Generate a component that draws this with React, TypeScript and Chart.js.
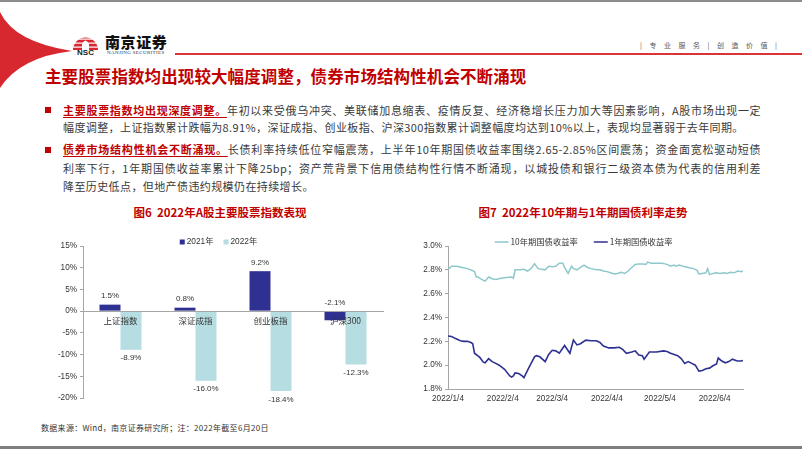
import React, { useEffect, useRef } from 'react';
import { Chart, registerables } from 'chart.js';

Chart.register(...registerables);

// ---------- Figure 6: bar chart data ----------
const barCategories = ['上证指数', '深证成指', '创业板指', '沪深300'];
const barSeriesNames = ['2021年', '2022年'];
const bar2021 = [1.5, 0.8, 9.2, -2.1];
const bar2022 = [-8.9, -16.0, -18.4, -12.3];
const barYMin = -20;
const barYMax = 15;
const barYStep = 5;

// ---------- Figure 7: line chart data ----------
const lineSeriesNames = ['10年期国债收益率', '1年期国债收益率'];
const lineStartDate = '2022/1/4';
const lineEndDate = '2022/6/20';
const lineXTickLabels = ['2022/1/4', '2022/2/4', '2022/3/4', '2022/4/4', '2022/5/4', '2022/6/4'];
const lineYMin = 1.8;
const lineYMax = 3.0;
const lineYStep = 0.2;

const tenYDates = [
  '1/4', '1/6', '1/9', '1/12', '1/15', '1/17', '1/19', '1/20', '1/21', '1/23', '1/25', '1/27', '1/29', '1/31',
  '2/3', '2/6', '2/9', '2/10', '2/11', '2/14', '2/16', '2/18', '2/20', '2/22', '2/24', '2/26', '2/28',
  '3/2', '3/4', '3/6', '3/8', '3/10', '3/11', '3/13', '3/15', '3/16', '3/18', '3/20', '3/22', '3/24', '3/26', '3/29', '3/31',
  '4/2', '4/4', '4/6', '4/8', '4/10', '4/12', '4/14', '4/16', '4/18', '4/20', '4/22', '4/24', '4/26', '4/27', '4/29',
  '5/2', '5/5', '5/7', '5/9', '5/10', '5/12', '5/13', '5/15', '5/17', '5/20', '5/23', '5/25', '5/26', '5/28', '5/30', '5/31',
  '6/1', '6/3', '6/5', '6/7', '6/9', '6/11', '6/13', '6/15', '6/17', '6/19', '6/20',
];
const tenYValues = [
  2.80, 2.83, 2.83, 2.82, 2.81, 2.80, 2.785, 2.74, 2.74, 2.72, 2.705, 2.74, 2.725, 2.72,
  2.73, 2.735, 2.74, 2.73, 2.80, 2.80, 2.805, 2.79, 2.81, 2.85, 2.81, 2.805, 2.80,
  2.83, 2.825, 2.83, 2.855, 2.855, 2.82, 2.77, 2.83, 2.81, 2.80, 2.82, 2.84, 2.82, 2.81, 2.80, 2.80,
  2.79, 2.785, 2.775, 2.765, 2.77, 2.78, 2.77, 2.79, 2.82, 2.845, 2.85, 2.85, 2.845, 2.865, 2.855,
  2.855, 2.855, 2.85, 2.84, 2.83, 2.84, 2.83, 2.84, 2.83, 2.82, 2.81, 2.795, 2.765, 2.77, 2.775, 2.81,
  2.76, 2.77, 2.775, 2.77, 2.775, 2.77, 2.78, 2.775, 2.79, 2.785, 2.79,
];

const oneYDates = [
  '1/4', '1/6', '1/8', '1/11', '1/13', '1/15', '1/17', '1/18', '1/19', '1/22', '1/24', '1/25', '1/27', '1/29', '1/31',
  '2/2', '2/5', '2/8', '2/9', '2/10', '2/11', '2/13', '2/15', '2/16', '2/19', '2/22', '2/23', '2/25', '2/28',
  '3/2', '3/4', '3/6', '3/8', '3/11', '3/14', '3/16', '3/18', '3/20', '3/23', '3/26', '3/29', '3/31',
  '4/2', '4/5', '4/8', '4/11', '4/13', '4/15', '4/18', '4/20', '4/22', '4/24', '4/25', '4/28',
  '5/2', '5/6', '5/8', '5/10', '5/12', '5/14', '5/16', '5/18', '5/20', '5/22', '5/24', '5/26', '5/28', '5/30',
  '6/1', '6/3', '6/5', '6/6', '6/8', '6/10', '6/12', '6/14', '6/16', '6/17', '6/19', '6/20',
];
const oneYValues = [
  2.245, 2.24, 2.225, 2.205, 2.20, 2.20, 2.19, 2.18, 2.10, 2.065, 2.025, 2.02, 2.055, 2.03, 2.015,
  2.00, 1.965, 1.91, 1.90, 1.91, 1.935, 1.93, 1.91, 1.895, 1.985, 2.07, 2.08, 2.07, 2.03,
  2.09, 2.125, 2.12, 2.10, 2.165, 2.10, 2.21, 2.17, 2.18, 2.21, 2.205, 2.205, 2.19,
  2.16, 2.145, 2.145, 2.15, 2.13, 2.10, 2.11, 2.12, 2.085, 2.08, 2.05, 2.11,
  2.11, 2.12, 2.115, 2.10, 2.09, 2.08, 2.055, 2.015, 2.03, 2.015, 2.00, 1.95, 1.955, 1.97,
  1.975, 1.995, 2.01, 2.06, 2.035, 2.02, 2.03, 2.05, 2.04, 2.035, 2.035, 2.04,
];

// ---------- helpers ----------
const dayOffset = (s: string) => {
  const full = s.split('/').length === 2 ? '2022/' + s : s;
  const [y, m, d] = full.split('/').map(Number);
  const [y0, m0, d0] = lineStartDate.split('/').map(Number);
  return Math.round((Date.UTC(y, m - 1, d) - Date.UTC(y0, m0 - 1, d0)) / 86400000);
};

const AXIS_FONT = "'Liberation Sans', Arial, 'Noto Sans CJK SC', sans-serif";
const CJK_FONT = "'Noto Sans CJK SC', 'Liberation Sans', sans-serif";
const AXIS_COLOR = '#A6A6A6';
const TEXT_COLOR = '#333333';
const RED = '#C00000';

const customLegend = {
  id: 'customLegend',
  afterDraw(chart: any, _args: any, opts: any) {
    const ctx = chart.ctx;
    ctx.save();
    ctx.font = opts.font;
    const items = chart.data.datasets.map((ds: any) => ({
      text: ds.label,
      color: opts.kind === 'line' ? ds.borderColor : ds.backgroundColor,
    }));
    const widths = items.map((it: any) => opts.markerWidth + opts.markerGap + ctx.measureText(it.text).width);
    const total = widths.reduce((a: number, b: number) => a + b, 0) + opts.itemGap * (items.length - 1);
    let x = opts.cx - total / 2;
    items.forEach((it: any, i: number) => {
      if (opts.kind === 'line') {
        ctx.strokeStyle = it.color;
        ctx.lineWidth = 1.5;
        ctx.beginPath();
        ctx.moveTo(x, opts.cy);
        ctx.lineTo(x + opts.markerWidth, opts.cy);
        ctx.stroke();
      } else {
        ctx.fillStyle = it.color;
        ctx.fillRect(x, opts.cy - opts.markerWidth / 2, opts.markerWidth, opts.markerWidth);
      }
      ctx.fillStyle = TEXT_COLOR;
      ctx.textAlign = 'left';
      ctx.textBaseline = 'middle';
      ctx.fillText(it.text, x + opts.markerWidth + opts.markerGap, opts.cy);
      x += widths[i] + opts.itemGap;
    });
    ctx.restore();
  },
};

const barValueLabels = {
  id: 'barValueLabels',
  afterDatasetsDraw(chart: any, _args: any, opts: any) {
    const ctx = chart.ctx;
    ctx.save();
    ctx.font = opts.font;
    ctx.fillStyle = TEXT_COLOR;
    ctx.textAlign = 'center';
    ctx.textBaseline = 'middle';
    chart.data.datasets.forEach((ds: any, di: number) => {
      const meta = chart.getDatasetMeta(di);
      meta.data.forEach((el: any, i: number) => {
        const v = ds.data[i];
        const p = el.getProps(['x', 'y', 'base'], true);
        const top = Math.min(p.y, p.base);
        const bottom = Math.max(p.y, p.base);
        const ly = di === 0 ? top - opts.offset : bottom + opts.offset;
        ctx.fillText(v.toFixed(1) + '%', p.x, ly);
      });
    });
    ctx.restore();
  },
};

function BarChart() {
  const ref = useRef<HTMLCanvasElement>(null);
  useEffect(() => {
    if (!ref.current) return;
    const chart = new Chart(ref.current, {
      type: 'bar',
      data: {
        labels: barCategories,
        datasets: [
          { label: barSeriesNames[0], data: bar2021, backgroundColor: '#2E3192', barPercentage: 1, categoryPercentage: 0.56 },
          { label: barSeriesNames[1], data: bar2022, backgroundColor: '#B5DDE2', barPercentage: 1, categoryPercentage: 0.56 },
        ],
      },
      plugins: [customLegend, barValueLabels],
      options: {
        responsive: false,
        animation: false,
        layout: { padding: { top: 10, right: 14, bottom: 8, left: 0 } },
        plugins: {
          legend: { display: false },
          tooltip: { enabled: false },
          customLegend: { kind: 'box', cx: 178.5, cy: 6, markerWidth: 5, markerGap: 2, itemGap: 10, font: `8.3px ${AXIS_FONT}` },
          barValueLabels: { font: `8px ${AXIS_FONT}`, offset: 8.5 },
        } as any,
        scales: {
          x: {
            position: { y: 0 } as any,
            grid: { display: true, drawOnChartArea: false, drawTicks: false, color: AXIS_COLOR },
            border: { display: true, color: AXIS_COLOR, width: 1, z: 1 } as any,
            ticks: { z: 2, font: { family: CJK_FONT, size: 8.5 }, color: TEXT_COLOR, padding: 5, maxRotation: 0, autoSkip: false },
          },
          y: {
            min: barYMin,
            max: barYMax,
            ticks: { stepSize: barYStep, callback: (v: any) => v + '%', font: { family: AXIS_FONT, size: 8.2 }, color: TEXT_COLOR, padding: 3 },
            grid: { drawOnChartArea: false, drawTicks: true, tickLength: 3, color: AXIS_COLOR },
            border: { display: true, color: AXIS_COLOR, width: 1 },
            afterFit: (s: any) => { s.width = 43; },
          },
        },
      },
    });
    return () => chart.destroy();
  }, []);
  return <canvas ref={ref} width={357} height={170} style={{ position: 'absolute', left: 40, top: 236, width: 357, height: 170 }} />;
}

function LineChart() {
  const ref = useRef<HTMLCanvasElement>(null);
  useEffect(() => {
    if (!ref.current) return;
    const chart = new Chart(ref.current, {
      type: 'line',
      data: {
        datasets: [
          {
            label: lineSeriesNames[0],
            data: tenYDates.map((d, i) => ({ x: dayOffset(d), y: tenYValues[i] })),
            borderColor: '#8DC8CB',
            borderWidth: 1.5,
            pointRadius: 0,
            tension: 0,
          },
          {
            label: lineSeriesNames[1],
            data: oneYDates.map((d, i) => ({ x: dayOffset(d), y: oneYValues[i] })),
            borderColor: '#2E3192',
            borderWidth: 1.6,
            pointRadius: 0,
            tension: 0,
          },
        ],
      },
      plugins: [customLegend],
      options: {
        responsive: false,
        animation: false,
        layout: { padding: { top: 10, right: 19, bottom: 0, left: 0 } },
        plugins: {
          legend: { display: false },
          tooltip: { enabled: false },
          customLegend: { kind: 'line', cx: 178.5, cy: 6, markerWidth: 14, markerGap: 2, itemGap: 16, font: `8.3px ${CJK_FONT}` },
        } as any,
        scales: {
          x: {
            type: 'linear',
            min: 0,
            max: dayOffset(lineEndDate),
            afterBuildTicks: (s: any) => { s.ticks = lineXTickLabels.map((d) => ({ value: dayOffset(d) })); },
            ticks: {
              callback: (v: any) => lineXTickLabels.find((d) => dayOffset(d) === v) || '',
              font: { family: AXIS_FONT, size: 8.2 },
              color: TEXT_COLOR,
              padding: 5,
              maxRotation: 0,
              autoSkip: false,
            },
            grid: { drawOnChartArea: false, drawTicks: false, color: AXIS_COLOR },
            border: { display: true, color: AXIS_COLOR, width: 1 },
            afterFit: (s: any) => { s.height = 21; },
          },
          y: {
            min: lineYMin,
            max: lineYMax,
            ticks: { stepSize: lineYStep, callback: (v: any) => Number(v).toFixed(1) + '%', font: { family: AXIS_FONT, size: 8.2 }, color: TEXT_COLOR, padding: 3 },
            grid: { drawOnChartArea: false, drawTicks: true, tickLength: 3, color: AXIS_COLOR },
            border: { display: true, color: AXIS_COLOR, width: 1 },
            afterFit: (s: any) => { s.width = 43; },
          },
        },
      },
    });
    return () => chart.destroy();
  }, []);
  return <canvas ref={ref} width={357} height={174} style={{ position: 'absolute', left: 405, top: 236, width: 357, height: 174 }} />;
}

const bodyStyle: React.CSSProperties = {
  position: 'absolute',
  left: 63,
  fontSize: 11,
  lineHeight: '16px',
  letterSpacing: 0.4,
  color: '#3A3A3A',
  whiteSpace: 'nowrap',
};
const justified: React.CSSProperties = {
  width: 698,
  textAlign: 'justify',
  textAlignLast: 'justify' as any,
  whiteSpace: 'normal',
};
const redPhrase: React.CSSProperties = {
  color: RED,
  fontWeight: 700,
  textDecoration: 'underline',
  textDecorationThickness: '1px',
  textUnderlineOffset: '2px',
};

export default function App() {
  useEffect(() => {
    document.body.style.margin = '0';
  }, []);
  const headerItems = ['|', '专', '业', '服', '务', '|', '创', '造', '价', '值', '|'];
  return (
    <div style={{ position: 'absolute', left: 0, top: 0, width: 802, height: 451, background: '#fff', overflow: 'hidden', fontFamily: CJK_FONT }}>
      {/* frame */}
      <div style={{ position: 'absolute', left: 0, top: 0, width: 802, height: 2, background: '#8C8C8C' }} />
      <div style={{ position: 'absolute', left: 0, top: 446, width: 802, height: 3, background: '#7F7F7F' }} />

      {/* header graphics */}
      <svg width={802} height={100} style={{ position: 'absolute', left: 0, top: 0 }}>
        <path d="M0,12 Q14,42 72,51 Q20,57 0,88 Z" fill="#D7282F" />
        <path d="M73,50 A12.5,12.5 0 0 1 98,50 Z" fill="#D7282F" />
        <rect x={73} y={38.5} width={25} height={1.2} fill="#fff" />
        <rect x={73} y={42.5} width={25} height={1.2} fill="#fff" />
        <rect x={73} y={46.5} width={25} height={1.2} fill="#fff" />
        <path d="M82,50 L82,44 Q85.5,37 89,44 L89,50 Z" fill="#fff" />
        <rect x={175} y={53} width={627} height={2} fill="#D9343A" />
      </svg>
      <div style={{ position: 'absolute', left: 72, top: 49, width: 27, textAlign: 'center', fontFamily: AXIS_FONT, fontWeight: 700, fontSize: 8, lineHeight: '8px', color: '#231815' }}>NSC</div>
      <div style={{ position: 'absolute', left: 105, top: 33, fontSize: 15, lineHeight: '18px', fontWeight: 900, letterSpacing: 0.6, color: '#111' }}>南京证券</div>
      <div style={{ position: 'absolute', left: 107, top: 50, fontFamily: "'Liberation Serif', serif", fontSize: 5, lineHeight: '6px', letterSpacing: 0.35, color: '#333' }}>NANJING SECURITIES</div>
      <div style={{ position: 'absolute', left: 640, top: 40, width: 137, display: 'flex', justifyContent: 'space-between', fontSize: 7, lineHeight: '10px', color: '#555' }}>
        {headerItems.map((t, i) => <span key={i}>{t}</span>)}
      </div>

      {/* title */}
      <div style={{ position: 'absolute', left: 45, top: 66, fontSize: 16.5, lineHeight: '20px', fontWeight: 700, letterSpacing: 0.1, color: RED, whiteSpace: 'nowrap' }}>
        主要股票指数均出现较大幅度调整，债券市场结构性机会不断涌现
      </div>

      {/* bullets */}
      <div style={{ position: 'absolute', left: 45, top: 107, width: 6, height: 6, background: RED }} />
      <div style={{ position: 'absolute', left: 45, top: 147, width: 6, height: 6, background: RED }} />

      <div style={{ ...bodyStyle, ...justified, top: 102 }}>
        <span style={redPhrase}>主要股票指数均出现深度调整。</span>年初以来受俄乌冲突、美联储加息缩表、疫情反复、经济稳增长压力加大等因素影响，A股市场出现一定
      </div>
      <div style={{ ...bodyStyle, top: 119 }}>
        幅度调整，上证指数累计跌幅为8.91%，深证成指、创业板指、沪深300指数累计调整幅度均达到10%以上，表现均显著弱于去年同期。
      </div>
      <div style={{ ...bodyStyle, ...justified, top: 141 }}>
        <span style={redPhrase}>债券市场结构性机会不断涌现。</span>长债利率持续低位窄幅震荡，上半年10年期国债收益率围绕2.65-2.85%区间震荡；资金面宽松驱动短债
      </div>
      <div style={{ ...bodyStyle, ...justified, top: 160 }}>
        利率下行，1年期国债收益率累计下降25bp；资产荒背景下信用债结构性行情不断涌现，以城投债和银行二级资本债为代表的信用利差
      </div>
      <div style={{ ...bodyStyle, top: 178 }}>
        降至历史低点，但地产债违约规模仍在持续增长。
      </div>

      {/* chart titles */}
      <div style={{ position: 'absolute', left: 100, top: 204, width: 240, textAlign: 'center', fontSize: 11.5, lineHeight: '16px', fontWeight: 700, color: RED, whiteSpace: 'pre' }}>
        {'图6  2022年A股主要股票指数表现'}
      </div>
      <div style={{ position: 'absolute', left: 463, top: 204, width: 240, textAlign: 'center', fontSize: 11.5, lineHeight: '16px', fontWeight: 700, color: RED, whiteSpace: 'pre' }}>
        {'图7  2022年10年期与1年期国债利率走势'}
      </div>

      <BarChart />
      <LineChart />

      {/* source */}
      <div style={{ position: 'absolute', left: 41, top: 422, fontSize: 8, lineHeight: '12px', letterSpacing: 0.3, color: '#333', whiteSpace: 'nowrap' }}>
        数据来源：Wind，南京证券研究所；注：2022年截至6月20日
      </div>
    </div>
  );
}
